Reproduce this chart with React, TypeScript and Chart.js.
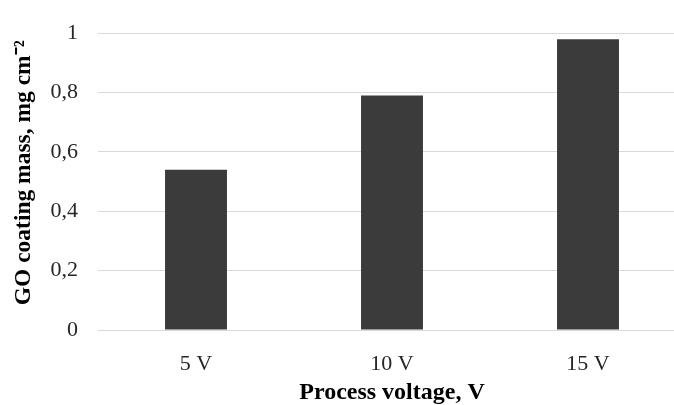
import React, { useEffect, useRef } from "react";
import { Chart, registerables } from "chart.js";

Chart.register(...registerables);

const categories = ["5 V", "10 V", "15 V"];
const coatingMass = [0.54, 0.79, 0.98];
const yTickValues = [0, 0.2, 0.4, 0.6, 0.8, 1];
const xTitle = "Process voltage, V";
const yTitle = "   GO coating mass, mg cm⁻²";

export default function App() {
  const ref = useRef<HTMLCanvasElement | null>(null);

  useEffect(() => {
    if (!ref.current) return;
    const chart = new Chart(ref.current, {
      type: "bar",
      data: {
        labels: categories,
        datasets: [
          {
            data: coatingMass,
            backgroundColor: "#3b3b3b",
            borderWidth: 0,
            categoryPercentage: 1,
            barPercentage: 0.316,
          },
        ],
      },
      options: {
        responsive: false,
        animation: false,
        devicePixelRatio: 1,
        layout: { padding: { top: 22, right: 14, bottom: 0, left: 0 } },
        plugins: { legend: { display: false }, tooltip: { enabled: false } },
        scales: {
          x: {
            grid: { display: false, drawTicks: false },
            border: { display: true, color: "#d9d9d9", width: 1 },
            ticks: {
              padding: 21,
              color: "#262626",
              font: { family: "'Liberation Serif', serif", size: 22 },
            },
            title: {
              display: true,
              text: xTitle,
              color: "#000",
              padding: { top: 0, bottom: 0 },
              font: { family: "'Liberation Serif', serif", size: 24, weight: "bold", lineHeight: 1.0 },
            },
            afterFit: (s: any) => {
              s.height = 75;
            },
          },
          y: {
            min: 0,
            max: 1,
            afterBuildTicks: (s: any) => {
              s.ticks = yTickValues.map((v) => ({ value: v }));
            },
            grid: { color: "#d9d9d9", lineWidth: 1, drawTicks: false },
            border: { display: false },
            ticks: {
              padding: 20,
              color: "#262626",
              font: { family: "'Liberation Serif', serif", size: 22 },
              callback: (v: any) => String(v).replace(".", ","),
            },
            title: {
              display: true,
              text: yTitle,
              color: "#000",
              padding: { top: 12, bottom: 0 },
              font: { family: "'Liberation Serif', serif", size: 23.5, weight: "bold", lineHeight: 1.0 },
            },
            afterFit: (s: any) => {
              s.width = 98;
            },
          },
        },
      },
    });
    return () => chart.destroy();
  }, []);

  return (
    <div
      style={{
        position: "fixed",
        left: 0,
        top: 0,
        width: 674,
        height: 405,
        overflow: "hidden",
        background: "#fff",
      }}
    >
      <canvas ref={ref} width={700} height={405} style={{ display: "block" }} />
    </div>
  );
}
